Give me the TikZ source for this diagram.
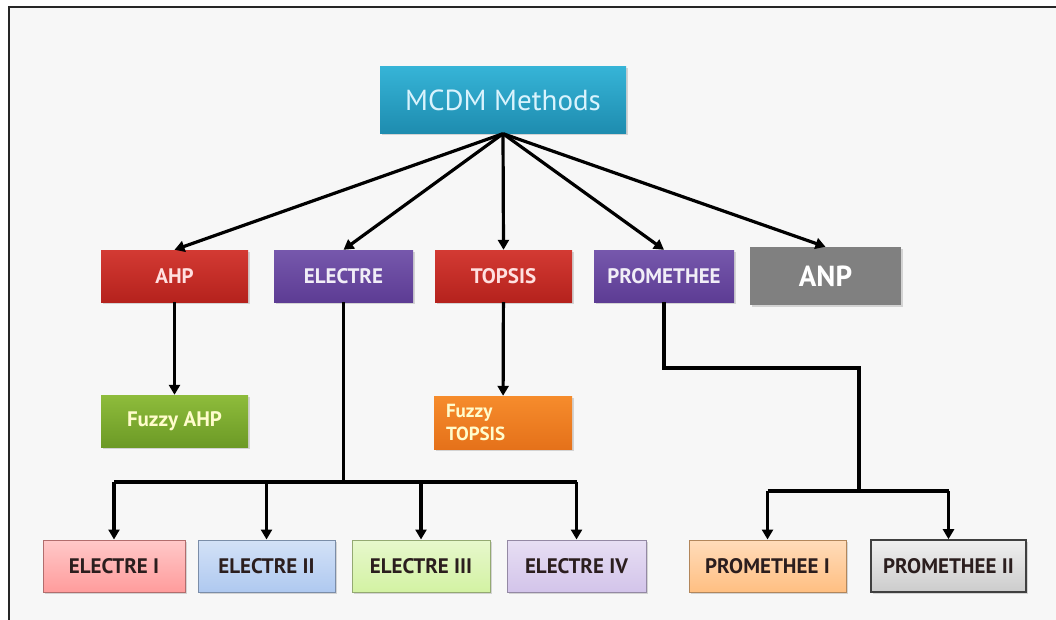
\documentclass[tikz,border=0pt]{standalone}
\usepackage{fontspec}
\setmainfont{PT Sans}
\usetikzlibrary{arrows.meta,shadows}

\definecolor{bgpaper}{HTML}{F7F7F7}
\definecolor{tealtop}{HTML}{36B4D7}
\definecolor{tealbot}{HTML}{1E8CAF}
\definecolor{redtop}{HTML}{D33A33}
\definecolor{redbot}{HTML}{B5221D}
\definecolor{purptop}{HTML}{7658AC}
\definecolor{purpbot}{HTML}{5D3C94}
\definecolor{anpgray}{HTML}{808080}
\definecolor{greentop}{HTML}{8EBC3B}
\definecolor{greenbot}{HTML}{6C9A26}
\definecolor{orangetop}{HTML}{F68C2C}
\definecolor{orangebot}{HTML}{E5711A}
\definecolor{darktext}{HTML}{2B1E1E}
\definecolor{eone}{HTML}{FF9C9C}
\definecolor{etwo}{HTML}{AFC9F0}
\definecolor{ethree}{HTML}{D3F2A3}
\definecolor{efour}{HTML}{D3C4EA}
\definecolor{pone}{HTML}{FFBF82}

\tikzset{
  methbox/.style={minimum width=138pt,minimum height=52pt,inner sep=0pt,
    font=\bfseries\fontsize{21}{23}\selectfont,
    drop shadow={shadow xshift=1.5pt,shadow yshift=-2pt,opacity=.3}},
  redbox/.style={methbox,top color=redtop,bottom color=redbot,text=white!88!red},
  purpbox/.style={methbox,top color=purptop,bottom color=purpbot,text=white!90!purptop},
  fuzzybox/.style={methbox,text=white!80!yellow},
  variant/.style={methbox,draw=#1!70!black,line width=1pt,text=darktext,
    top color=#1!55!white,bottom color=#1},
  link/.style={line width=3.2pt,line join=miter},
  arr/.style={link,-{Triangle[length=10pt,width=11pt]}}
}

\begin{document}
\begin{tikzpicture}[x=1pt,y=-1pt]
	\useasboundingbox (0,0) rectangle (1056,620);
	% paper and frame
	\fill[white] (0,0) rectangle (1056,620);
	\fill[bgpaper] (9,7) rectangle (1056,620);
	\draw[line width=2.4pt,black!85] (9,620) -- (9,7) -- (1056,7);

	% root
	\node[methbox,minimum width=246pt,minimum height=67pt,top color=tealtop,bottom color=tealbot,
	  text=white!85!cyan,font=\fontsize{29}{32}\selectfont] (mcdm) at (503,100) {MCDM Methods};

	% methods
	\node[redbox,minimum width=147pt] (ahp) at (174.5,276) {AHP};
	\node[purpbox,minimum width=139pt] (electre) at (343.5,276) {ELECTRE};
	\node[redbox,minimum width=137pt] (topsis) at (503.5,276) {TOPSIS};
	\node[purpbox,minimum width=140pt] (prom) at (664,276) {PROMETHEE};
	\node[methbox,minimum width=151pt,minimum height=58pt,fill=anpgray,text=white,
	  font=\bfseries\fontsize{29}{31}\selectfont] (anp) at (825.5,276) {ANP};

	% fuzzy extensions
	\node[fuzzybox,minimum width=147pt,top color=greentop,bottom color=greenbot] (fahp) at (174.5,421) {Fuzzy AHP};
	\node[fuzzybox,minimum width=138pt,minimum height=53pt,top color=orangetop,bottom color=orangebot,
	  font=\bfseries\fontsize{19}{23}\selectfont,align=left,text width=114pt] (ftopsis) at (503,422.5) {Fuzzy\\TOPSIS};

	% variants
	\node[variant=eone,minimum width=142pt] (e1) at (114,566) {ELECTRE I};
	\node[variant=etwo,minimum width=137pt] (e2) at (266.5,566) {ELECTRE II};
	\node[variant=ethree,minimum width=138pt] (e3) at (421,566) {ELECTRE III};
	\node[variant=efour,minimum width=139pt] (e4) at (576.5,566) {ELECTRE IV};
	\node[variant=pone,minimum width=157pt] (p1) at (767.5,566) {PROMETHEE I};
	\node[methbox,minimum width=155pt,draw=black!75,line width=1.6pt,text=darktext,
	  top color=black!6,bottom color=black!20] (p2) at (948.5,566) {PROMETHEE II};

	% bends and buses
	\coordinate (ebus) at (345,482);
	\coordinate (pturn) at (859,368);
	\coordinate (pbus) at (859,491);

	% root to methods
	\foreach \m in {ahp,electre,topsis,prom,anp}
	  \draw[arr] (mcdm.south) -- (\m.north);

	\draw[arr] (ahp) -- (fahp);
	\draw[arr] (topsis) -- (ftopsis);

	% electre family
	\draw[link] (electre.south) -- (electre.south |- ebus);
	\draw[link] (e1.north |- ebus) -- (e4.north |- ebus);
	\foreach \e in {e1,e2,e3,e4}
	  \draw[arr] (\e.north |- ebus) -- (\e.north);

	% promethee family
	\draw[link] (prom.south) |- (pturn) -- (pbus);
	\draw[link] (p1.north |- pbus) -- (p2.north |- pbus);
	\draw[arr] (p1.north |- pbus) -- (p1.north);
	\draw[arr] (p2.north |- pbus) -- (p2.north);
\end{tikzpicture}
\end{document}
